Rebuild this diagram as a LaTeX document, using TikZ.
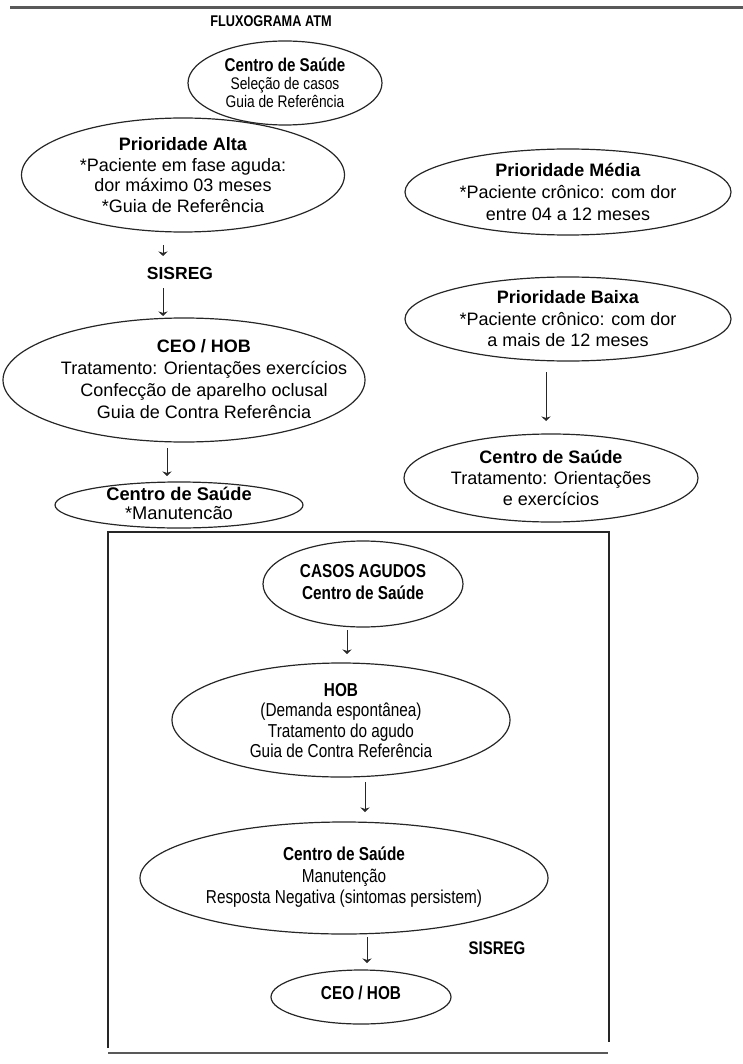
\documentclass[tikz,border=0pt]{standalone}
\usepackage{fontspec}
\setmainfont{Liberation Sans}
\newfontfamily\nar{Liberation Sans}[FakeStretch=0.82]
\usetikzlibrary{shapes.geometric,arrows.meta}
\tikzset{
  ell/.style={draw=black!85, line width=1.2pt, ellipse, inner sep=0pt, align=center, text=black},
  arr/.style={draw=black!85, line width=1pt, -{Stealth[length=4.5pt,width=9pt]}},
  rule/.style={draw=black!65, line width=2.5pt},
  boxline/.style={draw=black!85, line width=1.2pt},
  fN/.style={font=\fontsize{18}{#1}\selectfont},
  fR/.style={font=\nar\fontsize{18.7}{#1}\selectfont}
}
\begin{document}
\begin{tikzpicture}[x=1pt,y=-1pt]
\useasboundingbox (0,0) rectangle (743,1064);
% page rules
\coordinate (rtl) at (10,7.5);
\coordinate (rtr) at (743,7.5);
\draw[rule] (rtl) -- (rtr);
\node[font=\nar\fontsize{15.5}{16}\selectfont\bfseries] (title) at (271,21) {FLUXOGRAMA ATM};

% top
\node[ell, minimum width=194pt, minimum height=84pt, font=\nar\fontsize{16.8}{18}\selectfont] (cs0) at (285,83)
  {{\fontsize{18.5}{18.5}\selectfont\bfseries Centro de Saúde}\\Seleção de casos\\Guia de Referência};

% left column
\node[ell, minimum width=323pt, minimum height=114pt, fN=20.5] (alta) at (183,175)
  {\textbf{Prioridade Alta}\\*Paciente em fase aguda:\\dor máximo 03 meses\\*Guia de Referência};
\node[font=\fontsize{17.5}{18}\selectfont\bfseries] (sis1) at (180,273) {SISREG};
\node[ell, minimum width=362pt, minimum height=124pt, fN=22] (ceo1) at (184,380)
  {\makebox[0pt]{\hskip40pt\raisebox{-5.5pt}[0pt][0pt]{\begin{tabular}{@{}c@{}}\textbf{CEO / HOB}\\Tratamento: Orientações exercícios\\Confecção de aparelho oclusal\\Guia de Contra Referência\end{tabular}}}};
\node[ell, minimum width=248pt, minimum height=46pt, font=\fontsize{18.3}{18.5}\selectfont] (cs1) at (179,505)
  {\makebox[0pt]{\raisebox{-5.5pt}[0pt][0pt]{\begin{tabular}{@{}c@{}}\textbf{Centro de Saúde}\\{*}Manutencão\end{tabular}}}};

% right column
\node[ell, minimum width=326pt, minimum height=86pt, fN=22] (media) at (568,192)
  {\textbf{Prioridade Média}\\*Paciente crônico: com dor\\entre 04 a 12 meses};
\node[ell, minimum width=326pt, minimum height=84pt, fN=21.5] (baixa) at (568,319)
  {\textbf{Prioridade Baixa}\\*Paciente crônico: com dor\\a mais de 12 meses};
\node[ell, minimum width=294pt, minimum height=88pt, fN=21] (cs2) at (551,478)
  {\textbf{Centro de Saúde}\\Tratamento: Orientações\\e exercícios};

% box
\coordinate (bxa) at (108,1048);
\coordinate (bxb) at (108,532);
\coordinate (bxc) at (609,532);
\coordinate (bxd) at (609,1042);
\draw[boxline] (bxa) -- (bxb) -- (bxc) -- (bxd);
\coordinate (rbl) at (108,1053);
\coordinate (rbr) at (608,1053);
\draw[rule] (rbl) -- (rbr);

\node[ell, minimum width=200pt, minimum height=86pt, fR=22] (casos) at (363,584)
  {\raisebox{7pt}{\begin{tabular}{@{}c@{}}\textbf{CASOS AGUDOS}\\\textbf{Centro de Saúde}\end{tabular}}};
\node[ell, minimum width=338pt, minimum height=114pt, fR=20.5] (hob) at (341,720)
  {\makebox[0pt]{\raisebox{-7pt}[0pt][0pt]{\begin{tabular}{@{}c@{}}\textbf{HOB}\\(Demanda espontânea)\\Tratamento do agudo\\Guia de Contra Referência\end{tabular}}}};
\node[ell, minimum width=408pt, minimum height=112pt, fR=21.5] (cs3) at (344,878)
  {\raisebox{7pt}{\begin{tabular}{@{}c@{}}\textbf{Centro de Saúde}\\Manutenção\\Resposta Negativa (sintomas persistem)\end{tabular}}};
\node[font=\nar\fontsize{18.3}{18.5}\selectfont\bfseries] (sis2) at (497,948) {SISREG};
\node[ell, minimum width=180pt, minimum height=54pt, fR=20] (ceo2) at (361,997)
  {\raisebox{9pt}{\textbf{CEO / HOB}}};

% arrows
\coordinate (a1s) at (163,245); \coordinate (a1e) at (163,256);
\draw[arr] (a1s) -- (a1e);
\coordinate (a2s) at (163,288); \coordinate (a2e) at (163,316);
\draw[arr] (a2s) -- (a2e);
\coordinate (a3s) at (167,448); \coordinate (a3e) at (167,476);
\draw[arr] (a3s) -- (a3e);
\coordinate (a4s) at (546,372); \coordinate (a4e) at (546,421);
\draw[arr] (a4s) -- (a4e);
\coordinate (a5s) at (347,630); \coordinate (a5e) at (347,654);
\draw[arr] (a5s) -- (a5e);
\coordinate (a6s) at (365,782); \coordinate (a6e) at (365,812);
\draw[arr] (a6s) -- (a6e);
\coordinate (a7s) at (367,937); \coordinate (a7e) at (367,963);
\draw[arr] (a7s) -- (a7e);
\end{tikzpicture}
\end{document}
